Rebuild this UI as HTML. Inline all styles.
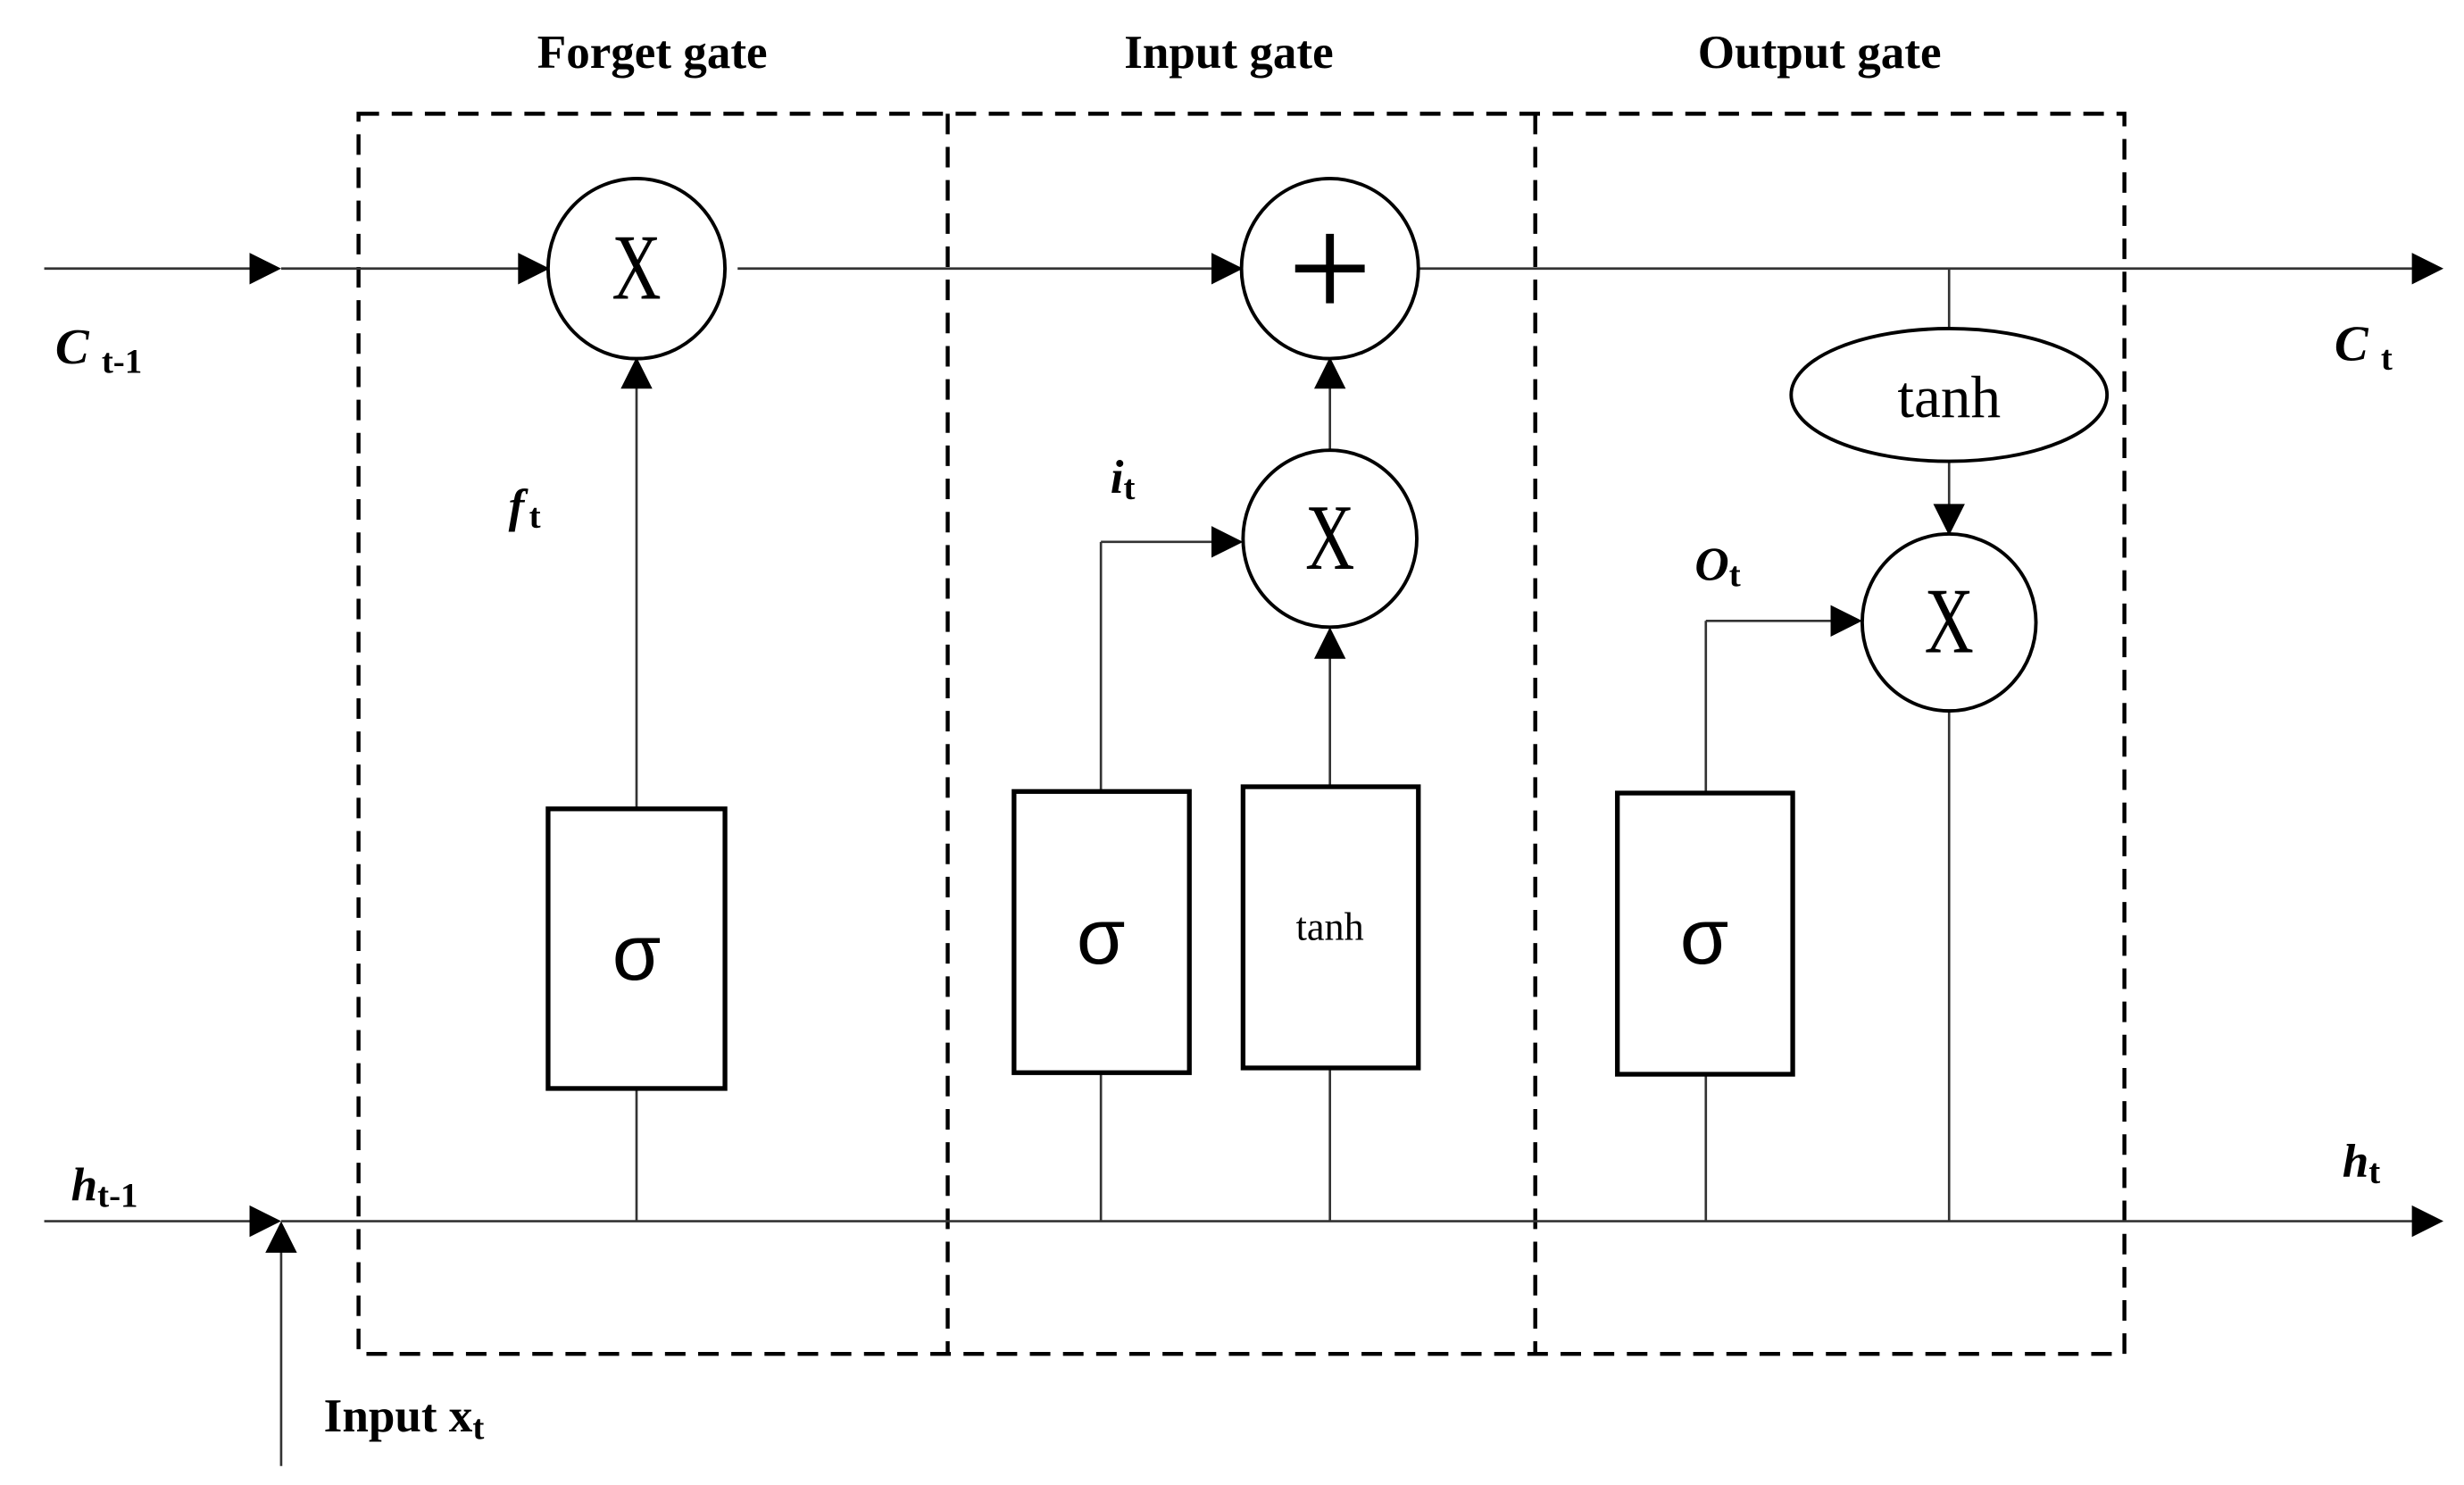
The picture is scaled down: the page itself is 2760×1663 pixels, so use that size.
<!DOCTYPE html>
<html><head><meta charset="utf-8"><style>
html,body{margin:0;padding:0;background:#fff;}
svg{display:block;}
text{font-family:"Liberation Serif",serif;fill:#000;}
</style></head><body>
<svg width="2760" height="1663" viewBox="0 0 1560 940" preserveAspectRatio="none" xmlns="http://www.w3.org/2000/svg">
<!-- titles -->
<text x="413" y="43" font-size="30" font-weight="bold" text-anchor="middle">Forget gate</text>
<text x="778" y="43" font-size="30" font-weight="bold" text-anchor="middle">Input gate</text>
<text x="1152" y="43" font-size="30" font-weight="bold" text-anchor="middle">Output gate</text>
<!-- dashed boxes -->
<g fill="none" stroke="#000" stroke-width="2.5" stroke-dasharray="13,8">
<rect x="227" y="72" width="1118" height="785"/>
<line x1="600" y1="72" x2="600" y2="857"/>
<line x1="972" y1="72" x2="972" y2="857"/>
</g>
<g stroke="#333" stroke-width="1.5" fill="none">
<line x1="28" y1="170" x2="160" y2="170"/>
<line x1="178" y1="170" x2="331" y2="170"/>
<line x1="467" y1="170" x2="770" y2="170"/>
<line x1="898" y1="170" x2="1528" y2="170"/>
<line x1="28" y1="773" x2="160" y2="773"/>
<line x1="178" y1="773" x2="1528" y2="773"/>
<line x1="178" y1="928" x2="178" y2="790"/>
<line x1="403" y1="512" x2="403" y2="243"/>
<line x1="403" y1="689" x2="403" y2="773"/>
<line x1="697" y1="501" x2="697" y2="343"/>
<line x1="697" y1="343" x2="770" y2="343"/>
<line x1="842" y1="498" x2="842" y2="414"/>
<line x1="842" y1="285" x2="842" y2="243"/>
<line x1="697" y1="679" x2="697" y2="773"/>
<line x1="842" y1="676" x2="842" y2="773"/>
<line x1="1080" y1="502" x2="1080" y2="393"/>
<line x1="1080" y1="393" x2="1162" y2="393"/>
<line x1="1080" y1="680" x2="1080" y2="773"/>
<line x1="1234" y1="170" x2="1234" y2="208"/>
<line x1="1234" y1="292" x2="1234" y2="322"/>
<line x1="1234" y1="450" x2="1234" y2="773"/>
</g>
<g fill="#000">
<path d="M158,160 L178,170 L158,180z"/>
<path d="M328,160 L348,170 L328,180z"/>
<path d="M767,160 L787,170 L767,180z"/>
<path d="M1527,160 L1547,170 L1527,180z"/>
<path d="M158,763 L178,773 L158,783z"/>
<path d="M1527,763 L1547,773 L1527,783z"/>
<path d="M168,793 L178,773 L188,793z"/>
<path d="M393,246 L403,226 L413,246z"/>
<path d="M832,246 L842,226 L852,246z"/>
<path d="M832,417 L842,397 L852,417z"/>
<path d="M767,333 L787,343 L767,353z"/>
<path d="M1159,383 L1179,393 L1159,403z"/>
<path d="M1224,319 L1234,339 L1244,319z"/>
</g>
<g fill="#fff" stroke="#000" stroke-width="2.2">
<ellipse cx="403" cy="170" rx="56" ry="57"/>
<ellipse cx="842" cy="170" rx="56" ry="57"/>
<ellipse cx="842" cy="341" rx="55" ry="56"/>
<ellipse cx="1234" cy="394" rx="55" ry="56"/>
<ellipse cx="1234" cy="250" rx="100" ry="42"/>
</g>
<g fill="#fff" stroke="#000" stroke-width="3">
<rect x="347" y="512" width="112" height="177"/>
<rect x="642" y="501" width="111" height="178"/>
<rect x="787" y="498" width="111" height="178"/>
<rect x="1024" y="502" width="111" height="178"/>
</g>
<g font-size="54" text-anchor="middle">
<text transform="translate(403,189) scale(0.8,1.1)">X</text>
<text transform="translate(842,360) scale(0.8,1.1)">X</text>
<text transform="translate(1234,413) scale(0.8,1.1)">X</text>
</g>
<path d="M842,148 V192 M820,170 H864" stroke="#000" stroke-width="5"/>
<text x="1234" y="264" font-size="38" text-anchor="middle">tanh</text>
<text x="842" y="595" font-size="25" text-anchor="middle">tanh</text>
<g font-size="50" text-anchor="middle" style="font-family:'Liberation Sans',sans-serif">
<text x="403" y="620" style="font-family:'Liberation Sans',sans-serif">σ</text>
<text x="697" y="610" style="font-family:'Liberation Sans',sans-serif">σ</text>
<text x="1079" y="610" style="font-family:'Liberation Sans',sans-serif">σ</text>
</g>
<text x="35" y="230" font-size="32" font-style="italic" font-weight="bold">C<tspan font-size="22" font-style="normal" dx="8" dy="6">t-1</tspan></text>
<text x="1478" y="228" font-size="32" font-style="italic" font-weight="bold">C<tspan font-size="22" font-style="normal" dx="8" dy="6">t</tspan></text>
<text x="45" y="760" font-size="30" font-style="italic" font-weight="bold">h<tspan font-size="22" font-style="normal" dy="4">t-1</tspan></text>
<text x="1483" y="745" font-size="30" font-style="italic" font-weight="bold">h<tspan font-size="22" font-style="normal" dy="4">t</tspan></text>
<text x="322" y="330" font-size="30" font-style="italic" font-weight="bold">f<tspan font-size="22" font-style="normal" dx="3" dy="4">t</tspan></text>
<text x="703" y="312" font-size="30" font-style="italic" font-weight="bold">i<tspan font-size="22" font-style="normal" dy="4">t</tspan></text>
<text x="1073" y="367" font-size="30" font-style="italic" font-weight="bold">O<tspan font-size="22" font-style="normal" dy="4">t</tspan></text>
<text x="205" y="906" font-size="30" font-weight="bold">Input x<tspan font-size="22" dy="5">t</tspan></text>
</svg>
</body></html>
